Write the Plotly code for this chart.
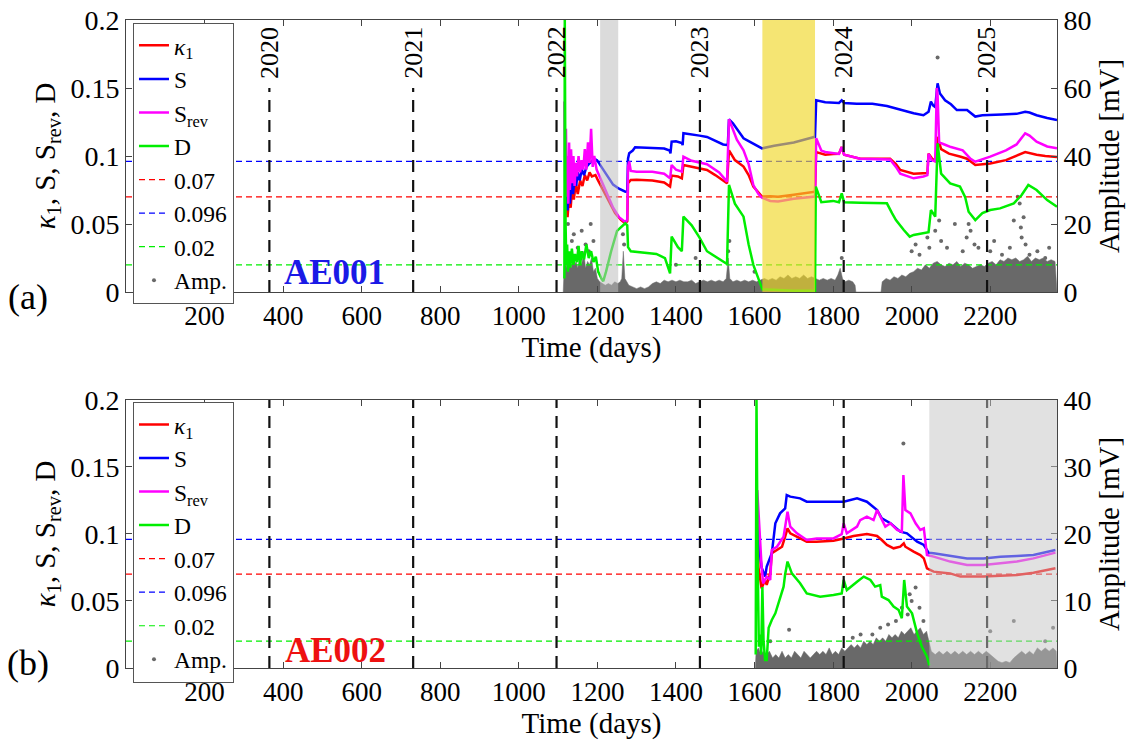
import plotly.graph_objects as go

# ---------------- data ----------------
x_range = [0, 2370]
x_ticks = [200, 400, 600, 800, 1000, 1200, 1400, 1600, 1800, 2000, 2200]
year_days = [365, 731, 1096, 1461, 1827, 2192]
year_labels = ["2020", "2021", "2022", "2023", "2024", "2025"]
thresholds = [0.07, 0.096, 0.02]
threshold_names = ["0.07", "0.096", "0.02"]

# ---- AE001 (panel a) ----
a_k1_days = [1118, 1121, 1124, 1128, 1132, 1136, 1140, 1145, 1150, 1156, 1162, 1168, 1174, 1180, 1186, 1195, 1200, 1215, 1230, 1245, 1260, 1271, 1276, 1278, 1285, 1300, 1340, 1370, 1385, 1389, 1405, 1415, 1419, 1440, 1460, 1479, 1500, 1530, 1535, 1550, 1572, 1585, 1597, 1610, 1619, 1640, 1660, 1700, 1754, 1757, 1780, 1800, 1815, 1822, 1828, 1869, 1900, 1945, 1960, 1971, 2005, 2040, 2043, 2051, 2060, 2066, 2075, 2095, 2125, 2141, 2162, 2200, 2240, 2289, 2318, 2340, 2370]
a_k1_vals = [0.060, 0.075, 0.055, 0.070, 0.062, 0.078, 0.068, 0.080, 0.072, 0.082, 0.078, 0.086, 0.082, 0.088, 0.085, 0.086, 0.083, 0.075, 0.066, 0.058, 0.053, 0.0505, 0.052, 0.080, 0.0824, 0.0825, 0.082, 0.0805, 0.0775, 0.0856, 0.085, 0.0836, 0.0934, 0.092, 0.0905, 0.0897, 0.086, 0.0799, 0.1042, 0.097, 0.0922, 0.086, 0.0775, 0.073, 0.0702, 0.0705, 0.070, 0.0715, 0.0738, 0.1029, 0.101, 0.1015, 0.1017, 0.1066, 0.101, 0.098, 0.098, 0.098, 0.094, 0.0897, 0.087, 0.0875, 0.1017, 0.0985, 0.096, 0.114, 0.105, 0.1017, 0.0995, 0.098, 0.0934, 0.0945, 0.097, 0.1029, 0.101, 0.100, 0.0992]

a_s_days = [1118, 1121, 1124, 1127, 1130, 1134, 1138, 1142, 1146, 1150, 1155, 1160, 1166, 1172, 1178, 1185, 1192, 1199, 1210, 1225, 1240, 1255, 1271, 1276, 1278, 1281, 1290, 1296, 1320, 1350, 1370, 1384, 1386, 1389, 1400, 1415, 1417, 1419, 1440, 1460, 1479, 1500, 1520, 1532, 1535, 1545, 1555, 1565, 1572, 1585, 1597, 1610, 1619, 1650, 1700, 1754, 1757, 1780, 1800, 1815, 1822, 1828, 1860, 1900, 1937, 1970, 2005, 2030, 2043, 2049, 2055, 2060, 2066, 2072, 2085, 2100, 2115, 2141, 2150, 2162, 2180, 2200, 2230, 2267, 2289, 2300, 2318, 2345, 2370]
a_s_vals = [0.100, 0.070, 0.060, 0.075, 0.065, 0.080, 0.072, 0.085, 0.078, 0.088, 0.082, 0.090, 0.086, 0.092, 0.094, 0.096, 0.098, 0.097, 0.092, 0.085, 0.079, 0.076, 0.0738, 0.074, 0.098, 0.102, 0.104, 0.1064, 0.1062, 0.106, 0.1055, 0.104, 0.102, 0.1105, 0.1108, 0.1095, 0.108, 0.1167, 0.116, 0.115, 0.114, 0.111, 0.1085, 0.108, 0.127, 0.124, 0.120, 0.116, 0.113, 0.111, 0.109, 0.107, 0.1056, 0.1075, 0.110, 0.1142, 0.141, 0.1395, 0.1395, 0.139, 0.141, 0.139, 0.1385, 0.1385, 0.1368, 0.134, 0.1314, 0.130, 0.1326, 0.140, 0.137, 0.136, 0.1534, 0.146, 0.141, 0.138, 0.1338, 0.1338, 0.132, 0.129, 0.130, 0.130, 0.1305, 0.131, 0.1326, 0.132, 0.130, 0.128, 0.1265]

a_srev_days = [1116, 1118, 1120, 1122, 1124, 1126, 1128, 1130, 1133, 1136, 1139, 1142, 1145, 1148, 1152, 1156, 1160, 1164, 1168, 1172, 1176, 1180, 1184, 1188, 1192, 1198, 1210, 1225, 1240, 1255, 1271, 1276, 1278, 1281, 1285, 1300, 1340, 1370, 1385, 1389, 1400, 1415, 1419, 1440, 1479, 1510, 1530, 1535, 1545, 1555, 1572, 1585, 1597, 1610, 1619, 1640, 1660, 1700, 1754, 1757, 1770, 1780, 1815, 1822, 1828, 1869, 1945, 1960, 1971, 2005, 2030, 2040, 2043, 2051, 2060, 2064, 2066, 2070, 2085, 2100, 2130, 2150, 2162, 2200, 2240, 2267, 2289, 2300, 2318, 2345, 2370]
a_srev_vals = [0.140, 0.080, 0.120, 0.070, 0.100, 0.065, 0.110, 0.075, 0.105, 0.080, 0.100, 0.078, 0.095, 0.085, 0.100, 0.088, 0.097, 0.090, 0.105, 0.090, 0.110, 0.095, 0.120, 0.092, 0.100, 0.090, 0.082, 0.072, 0.062, 0.055, 0.0515, 0.053, 0.092, 0.096, 0.089, 0.0885, 0.0885, 0.087, 0.0836, 0.0934, 0.090, 0.0885, 0.0995, 0.0965, 0.094, 0.088, 0.0812, 0.127, 0.120, 0.112, 0.1042, 0.094, 0.0787, 0.072, 0.0693, 0.067, 0.0665, 0.0685, 0.0702, 0.113, 0.104, 0.103, 0.1015, 0.1066, 0.101, 0.098, 0.0975, 0.092, 0.087, 0.0836, 0.085, 0.086, 0.1017, 0.097, 0.096, 0.150, 0.145, 0.110, 0.1083, 0.1066, 0.1042, 0.098, 0.0958, 0.0995, 0.1042, 0.1085, 0.1167, 0.115, 0.1105, 0.107, 0.1057]

a_d_days = [1116, 1117, 1119, 1121, 1123, 1125, 1128, 1131, 1135, 1139, 1143, 1148, 1152, 1156, 1160, 1166, 1172, 1178, 1184, 1190, 1196, 1202, 1210, 1215, 1222, 1235, 1250, 1271, 1276, 1278, 1285, 1320, 1350, 1372, 1385, 1389, 1405, 1415, 1419, 1440, 1460, 1479, 1500, 1530, 1535, 1550, 1572, 1585, 1597, 1610, 1620, 1700, 1754, 1756, 1770, 1800, 1815, 1822, 1828, 1869, 1937, 1950, 1960, 1980, 1995, 2005, 2030, 2043, 2049, 2060, 2066, 2075, 2098, 2123, 2136, 2145, 2162, 2180, 2200, 2225, 2260, 2280, 2297, 2318, 2345, 2370]
a_d_vals = [0.010, 0.200, 0.050, 0.020, 0.035, 0.015, 0.030, 0.018, 0.032, 0.020, 0.028, 0.022, 0.034, 0.020, 0.030, 0.024, 0.035, 0.025, 0.030, 0.022, 0.026, 0.015, 0.010, 0.008, 0.015, 0.030, 0.045, 0.0505, 0.049, 0.033, 0.030, 0.029, 0.028, 0.025, 0.0137, 0.0407, 0.033, 0.030, 0.0554, 0.049, 0.040, 0.030, 0.026, 0.0206, 0.0787, 0.065, 0.0554, 0.035, 0.020, 0.0098, 0.002, 0.001, 0.001, 0.0775, 0.066, 0.067, 0.066, 0.0725, 0.066, 0.0657, 0.0652, 0.058, 0.0529, 0.0456, 0.0407, 0.042, 0.0431, 0.044, 0.0603, 0.0554, 0.1093, 0.087, 0.0799, 0.0775, 0.070, 0.059, 0.0529, 0.058, 0.0603, 0.0615, 0.0652, 0.0713, 0.0787, 0.075, 0.0676, 0.0627]

# dense amplitude cloud (upper envelope, mV) and isolated amplitude hits
a_amp_env_days = [1113, 1115, 1118, 1121, 1124, 1127, 1130, 1134, 1138, 1142, 1146, 1150, 1155, 1160, 1165, 1170, 1175, 1180, 1185, 1190, 1195, 1200, 1206, 1212, 1220, 1228, 1236, 1244, 1252, 1258, 1262, 1266, 1270, 1275, 1280, 1290, 1300, 1310, 1320, 1330, 1340, 1350, 1360, 1370, 1380, 1390, 1400, 1410, 1420, 1430, 1440, 1450, 1460, 1470, 1480, 1490, 1500, 1510, 1520, 1528, 1533, 1537, 1545, 1555, 1565, 1575, 1585, 1595, 1605, 1615, 1625, 1635, 1645, 1655, 1665, 1675, 1685, 1695, 1705, 1715, 1725, 1735, 1745, 1755, 1765, 1775, 1785, 1795, 1805, 1812, 1818, 1824, 1830, 1840, 1850, 1856, 1858, 1922, 1925, 1935, 1945, 1955, 1965, 1975, 1985, 1995, 2005, 2015, 2025, 2035, 2045, 2055, 2065, 2075, 2085, 2095, 2105, 2115, 2125, 2135, 2145, 2155, 2165, 2175, 2185, 2195, 2205, 2215, 2225, 2235, 2245, 2255, 2265, 2275, 2285, 2295, 2305, 2315, 2325, 2335, 2345, 2355, 2365, 2370]
a_amp_env_vals = [0, 6, 9, 7, 10, 8, 9, 7, 11, 8, 9, 7, 10, 8, 12, 7, 9, 8, 10, 6, 7, 4, 3, 2.5, 2, 2.5, 2, 3, 2.5, 3, 4, 12, 4, 3, 2, 1.5, 1, 1.5, 1, 1.5, 2.5, 3, 2.5, 3.5, 3, 3.5, 3, 3.5, 3, 3, 3.5, 2.5, 3, 3.5, 3, 3.5, 3, 3.5, 3, 4, 10, 4, 3, 3.5, 3, 3.5, 3, 3.5, 3, 3.5, 4, 3.5, 4, 3.5, 4.5, 4, 5, 4, 4.5, 4, 5, 4, 4.5, 4, 3.5, 4, 3.5, 4, 3.5, 5, 7, 4, 3, 3.5, 3, 2, 0, 0, 3, 4, 3.5, 4.5, 4, 5, 4.5, 5.5, 6, 7, 6.5, 8, 7, 8.5, 9, 8, 7.5, 8.5, 8, 9, 7.5, 8.5, 8, 7, 7.5, 8, 7.5, 8.5, 9, 8, 9.5, 9, 10, 9.5, 10, 9, 9.5, 10.5, 9, 10, 9.5, 10, 9, 9.5, 9, 0]
a_amp_pts_days = [1125, 1135, 1140, 1150, 1160, 1170, 1178, 1183, 1190, 1265, 1268, 1400, 1450, 1533, 1536, 1600, 1822, 2000, 2010, 2020, 2040, 2045, 2060, 2066, 2070, 2075, 2090, 2110, 2130, 2140, 2145, 2150, 2160, 2170, 2200, 2210, 2230, 2250, 2260, 2270, 2275, 2278, 2280, 2285, 2290, 2300, 2320, 2340, 2350]
a_amp_pts_vals = [20, 15, 17, 13, 18, 14, 12, 20, 15, 17, 14, 8, 10, 12, 15, 6, 10, 12, 14, 11, 16, 13, 18, 69, 21, 15, 13, 20, 12, 16, 20, 18, 14, 13, 12, 15, 11, 13, 21, 28, 26, 19, 16, 22, 14, 11, 12, 10, 13]

# ---- AE002 (panel b) ----
b_k1_days = [1606, 1610, 1618, 1627, 1631, 1640, 1644, 1657, 1670, 1678, 1684, 1691, 1716, 1733, 1758, 1801, 1827, 1852, 1886, 1912, 1924, 1937, 1954, 1971, 1980, 1984, 2005, 2022, 2031, 2039, 2056, 2098, 2124, 2183, 2268, 2310, 2366]
b_k1_vals = [0.120, 0.075, 0.0595, 0.0657, 0.062, 0.0706, 0.0856, 0.0881, 0.0905, 0.098, 0.1042, 0.1005, 0.0967, 0.0943, 0.0943, 0.095, 0.0967, 0.0985, 0.0999, 0.0985, 0.0955, 0.0918, 0.0893, 0.0905, 0.093, 0.0905, 0.0868, 0.0843, 0.0818, 0.0744, 0.0719, 0.0706, 0.0682, 0.0682, 0.0694, 0.0711, 0.0744]

b_s_days = [1606, 1610, 1618, 1627, 1631, 1644, 1653, 1665, 1678, 1682, 1691, 1716, 1733, 1827, 1861, 1886, 1912, 1924, 1946, 1971, 1988, 2014, 2031, 2043, 2056, 2098, 2141, 2183, 2226, 2268, 2310, 2366]
b_s_vals = [0.110, 0.0955, 0.075, 0.0682, 0.0756, 0.0856, 0.108, 0.1154, 0.1191, 0.1291, 0.1279, 0.1266, 0.1241, 0.1241, 0.1266, 0.1241, 0.1179, 0.1117, 0.108, 0.1017, 0.1005, 0.0943, 0.0918, 0.0861, 0.0856, 0.0836, 0.0818, 0.0818, 0.0831, 0.0836, 0.0843, 0.0881]

b_srev_days = [1605, 1607, 1618, 1622, 1631, 1640, 1644, 1657, 1674, 1684, 1691, 1708, 1733, 1758, 1801, 1822, 1827, 1835, 1861, 1869, 1886, 1903, 1912, 1924, 1933, 1946, 1963, 1975, 1979, 1984, 1997, 2010, 2022, 2031, 2039, 2056, 2098, 2141, 2183, 2226, 2268, 2310, 2366]
b_srev_vals = [0.090, 0.1328, 0.0756, 0.0632, 0.0682, 0.0657, 0.0881, 0.0905, 0.098, 0.1166, 0.1055, 0.1005, 0.0955, 0.0967, 0.0967, 0.0999, 0.108, 0.1005, 0.1055, 0.1104, 0.1129, 0.1104, 0.1179, 0.1104, 0.1055, 0.108, 0.103, 0.1017, 0.1440, 0.1179, 0.1154, 0.108, 0.103, 0.1042, 0.0843, 0.0831, 0.0794, 0.0769, 0.0769, 0.0781, 0.0794, 0.0818, 0.0861]

b_d_days = [1603, 1605, 1608, 1611, 1614, 1617, 1620, 1623, 1627, 1631, 1636, 1644, 1653, 1665, 1674, 1678, 1684, 1695, 1716, 1733, 1767, 1801, 1822, 1827, 1835, 1861, 1878, 1895, 1907, 1920, 1924, 1941, 1954, 1967, 1975, 1981, 1988, 2001, 2014, 2026, 2039, 2045]
b_d_vals = [0.010, 0.200, 0.080, 0.0159, 0.025, 0.010, 0.0604, 0.020, 0.006, 0.006, 0.030, 0.0358, 0.0408, 0.0532, 0.0607, 0.070, 0.0794, 0.0706, 0.0632, 0.0557, 0.0532, 0.0545, 0.0557, 0.0657, 0.0582, 0.0644, 0.0682, 0.0657, 0.0607, 0.0619, 0.0532, 0.0507, 0.0458, 0.0433, 0.0371, 0.0657, 0.0458, 0.0408, 0.0259, 0.0159, 0.0085, 0.002]

b_amp_env_days = [1602, 1604, 1610, 1616, 1622, 1630, 1638, 1646, 1654, 1662, 1670, 1678, 1686, 1694, 1702, 1710, 1718, 1726, 1734, 1742, 1750, 1758, 1766, 1774, 1782, 1790, 1798, 1806, 1814, 1822, 1830, 1838, 1846, 1854, 1862, 1870, 1878, 1886, 1894, 1902, 1910, 1918, 1926, 1934, 1942, 1950, 1958, 1966, 1974, 1982, 1990, 1998, 2006, 2014, 2022, 2030, 2038, 2044, 2050, 2060, 2070, 2080, 2090, 2100, 2110, 2120, 2130, 2140, 2150, 2160, 2170, 2180, 2190, 2200, 2210, 2220, 2230, 2240, 2250, 2260, 2270, 2280, 2290, 2300, 2310, 2320, 2330, 2340, 2350, 2360, 2368, 2370]
b_amp_env_vals = [0, 2.5, 3, 2, 2.5, 2, 2.5, 1.5, 2, 1.5, 2.5, 1.5, 2, 1.5, 2.5, 2, 1.5, 2.5, 2, 1.5, 2, 2.5, 2, 2.5, 2, 3, 2, 2.5, 2, 3, 2.5, 3, 3.5, 3, 3.5, 3, 4, 3.5, 4, 3.5, 4.5, 4, 4.5, 4, 5, 4.5, 5, 4.5, 5.5, 5, 5.5, 6, 5, 5.5, 6, 5, 5.5, 4, 2.5, 2, 2.5, 2, 2.5, 2, 2.5, 2, 2.5, 2, 2.5, 2, 2.5, 2, 2.5, 2, 1.5, 1, 0.8, 1, 0.8, 1.5, 2, 2.5, 2, 2.5, 2, 3, 2.5, 3, 2.5, 3, 2.5, 0]
b_amp_pts_days = [1640, 1688, 1850, 1870, 1900, 1920, 1940, 1960, 1975, 1979, 1990, 1995, 2000, 2010, 2020, 2030, 2200, 2260, 2340, 2360]
b_amp_pts_vals = [4, 5.7, 4.5, 5, 5, 6, 6.5, 7, 9, 33.5, 8, 11, 10, 12, 9, 7, 5.5, 7, 4, 6]

# shaded periods (days)
a_gray_band = [1207, 1253]
a_yellow_band = [1620, 1754]
b_gray_band = [2045, 2370]

# ---------------- styling ----------------
FONT = "Liberation Serif"
RED, BLUE, MAG, GRN = "#FF0000", "#0000FF", "#FF00FF", "#00EE00"
GRAY = "rgb(105,105,105)"
thr_colors = [RED, BLUE, GRN]

fig = go.Figure()


def add_panel(k1d, k1v, sd, sv, rd, rv, dd, dv, envd, envv, ptd, ptv, xa, ya_amp, ya_k, leg):
    # amplitude (drawn first, underneath)
    fig.add_trace(go.Scatter(x=envd, y=envv, mode="lines", fill="tozeroy", fillcolor=GRAY,
                             line=dict(width=0.5, color=GRAY), showlegend=False,
                             xaxis=xa, yaxis=ya_amp, hoverinfo="skip"))
    fig.add_trace(go.Scatter(x=ptd, y=ptv, mode="markers", name="Amp.",
                             marker=dict(size=4, color=GRAY), xaxis=xa, yaxis=ya_amp,
                             legend=leg, legendrank=8))
    series = [("<i>κ</i><sub>1</sub>", k1d, k1v, RED, 1), ("S", sd, sv, BLUE, 2),
              ("S<sub>rev</sub>", rd, rv, MAG, 3), ("D", dd, dv, GRN, 4)]
    for i, (thr, nm) in enumerate(zip(thresholds, threshold_names)):
        fig.add_trace(go.Scatter(x=x_range, y=[thr, thr], mode="lines", name=nm,
                                 line=dict(color=thr_colors[i], width=1.2, dash="6px,4px"),
                                 xaxis=xa, yaxis=ya_k, legend=leg, legendrank=5 + i))
    for nm, d, v, c, rk in series:
        fig.add_trace(go.Scatter(x=d, y=v, mode="lines", name=nm,
                                 line=dict(color=c, width=2.5),
                                 xaxis=xa, yaxis=ya_k, legend=leg, legendrank=rk))


add_panel(a_k1_days, a_k1_vals, a_s_days, a_s_vals, a_srev_days, a_srev_vals, a_d_days, a_d_vals,
          a_amp_env_days, a_amp_env_vals, a_amp_pts_days, a_amp_pts_vals, "x", "y", "y2", "legend")
add_panel(b_k1_days, b_k1_vals, b_s_days, b_s_vals, b_srev_days, b_srev_vals, b_d_days, b_d_vals,
          b_amp_env_days, b_amp_env_vals, b_amp_pts_days, b_amp_pts_vals, "x2", "y3", "y4", "legend2")

shapes = []
annotations = []
for d, lab in zip(year_days, year_labels):
    shapes.append(dict(type="line", xref="x", yref="y domain", x0=d, x1=d, y0=0, y1=0.75,
                       line=dict(color="#111", width=2.2, dash="12px,8px"), layer="above"))
    shapes.append(dict(type="line", xref="x2", yref="y3 domain", x0=d, x1=d, y0=0, y1=1,
                       line=dict(color="#111", width=2.2, dash="12px,8px"), layer="above"))
    annotations.append(dict(x=d, y=0.88, xref="x", yref="y domain", text=lab, textangle=-90,
                            showarrow=False, font=dict(family=FONT, size=26, color="black"),
                            xanchor="center", yanchor="middle"))

shapes.append(dict(type="rect", xref="x", yref="y domain", x0=a_gray_band[0], x1=a_gray_band[1],
                   y0=0, y1=1, fillcolor="rgba(190,190,190,0.55)", line=dict(width=0), layer="above"))
shapes.append(dict(type="rect", xref="x", yref="y domain", x0=a_yellow_band[0], x1=a_yellow_band[1],
                   y0=0, y1=1, fillcolor="rgba(240,215,40,0.65)", line=dict(width=0), layer="above"))
shapes.append(dict(type="rect", xref="x2", yref="y3 domain", x0=b_gray_band[0], x1=b_gray_band[1],
                   y0=0, y1=1, fillcolor="rgba(195,195,195,0.5)", line=dict(width=0), layer="above"))

annotations += [
    dict(x=397, y=0.0147, xref="x", yref="y2", text="<b>AE001</b>", showarrow=False,
         xanchor="left", yanchor="middle", font=dict(family=FONT, size=35, color="#1a1ae6")),
    dict(x=400, y=0.0134, xref="x2", yref="y4", text="<b>AE002</b>", showarrow=False,
         xanchor="left", yanchor="middle", font=dict(family=FONT, size=35, color="#ee1111")),
    dict(x=-0.105, y=0.5725, xref="paper", yref="paper", text="(a)", showarrow=False,
         xanchor="center", yanchor="middle", font=dict(family=FONT, size=36, color="black")),
    dict(x=-0.105, y=0.0077, xref="paper", yref="paper", text="(b)", showarrow=False,
         xanchor="center", yanchor="middle", font=dict(family=FONT, size=36, color="black")),
]

xtickfont = dict(family=FONT, size=27, color="black")
ytickfont = dict(family=FONT, size=28, color="black")
titlefont = dict(family=FONT, size=29, color="black")
xcommon = dict(range=x_range, tickvals=x_ticks, ticks="inside", ticklen=6, tickcolor="#444",
               showline=True, linecolor="#444", linewidth=1, mirror="ticks", showgrid=False,
               zeroline=False, tickfont=xtickfont,
               title=dict(text="Time (days)", font=titlefont, standoff=2))
k_ticks = [0, 0.05, 0.1, 0.15, 0.2]
k_text = ["0", "0.05", "0.1", "0.15", "0.2"]
ktitle = "<i>κ</i><sub>1</sub>, S, S<sub>rev</sub>, D"
kcommon = dict(range=[0, 0.2], tickvals=k_ticks, ticktext=k_text, ticks="inside", ticklen=6,
               tickcolor="#444", showline=True, linecolor="#444", linewidth=1, showgrid=False,
               zeroline=False, tickfont=ytickfont, side="left",
               title=dict(text=ktitle, font=titlefont, standoff=6))
acommon = dict(ticks="inside", ticklen=6, tickcolor="#444", showline=True, linecolor="#444",
               linewidth=1, showgrid=False, zeroline=False, tickfont=ytickfont, side="right",
               title=dict(text="Amplitude [mV]", font=titlefont, standoff=8))

legcommon = dict(x=0.0075, xanchor="left", yanchor="top", bgcolor="white", bordercolor="#555",
                 borderwidth=1, font=dict(family=FONT, size=23.5, color="black"),
                 traceorder="normal", tracegroupgap=0)

fig.update_layout(
    width=1141, height=744,
    font=dict(family=FONT),
    margin=dict(l=126, r=84, t=20, b=76, autoexpand=False),
    paper_bgcolor="white", plot_bgcolor="white",
    xaxis=dict(domain=[0, 1], anchor="y", **xcommon),
    xaxis2=dict(domain=[0, 1], anchor="y3", **xcommon),
    yaxis=dict(domain=[0.5802, 1], anchor="x", range=[0, 80], tickvals=[0, 20, 40, 60, 80], **acommon),
    yaxis2=dict(overlaying="y", anchor="x", **kcommon),
    yaxis3=dict(domain=[0, 0.4136], anchor="x2", range=[0, 40], tickvals=[0, 10, 20, 30, 40], **acommon),
    yaxis4=dict(overlaying="y3", anchor="x2", **kcommon),
    legend=dict(y=0.996, **legcommon),
    legend2=dict(y=0.411, **legcommon),
    shapes=shapes, annotations=annotations,
)

# remove the browser's default 8px page margin so the figure sits at the window origin
fig.write_html("out.html", config={"displayModeBar": False},
               post_script="document.body.style.margin='0';")
